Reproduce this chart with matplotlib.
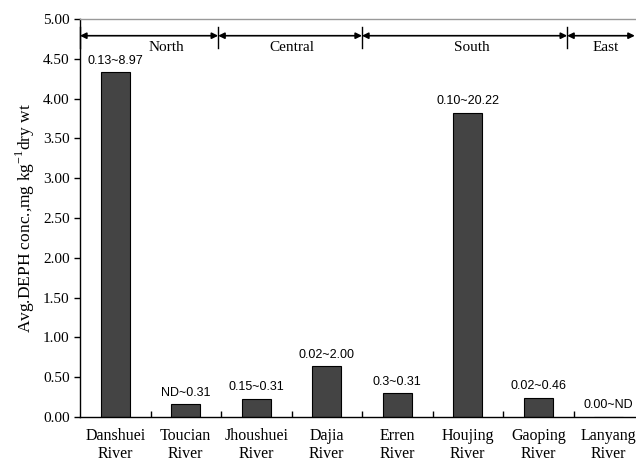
#!/usr/bin/env python3
"""DEPH concentration in river sediments, grouped by region."""

import numpy as np
import matplotlib
matplotlib.use('Agg')
import matplotlib.pyplot as plt

plt.rcParams['font.family'] = 'Liberation Serif'
plt.rcParams['mathtext.fontset'] = 'custom'
plt.rcParams['mathtext.rm'] = 'Liberation Serif'

RIVERS = ['Danshuei\nRiver', 'Toucian\nRiver', 'Jhoushuei\nRiver', 'Dajia\nRiver',
          'Erren\nRiver', 'Houjing\nRiver', 'Gaoping\nRiver', 'Lanyang\nRiver']
AVG_CONC = [4.33, 0.16, 0.23, 0.64, 0.30, 3.82, 0.24, 0.0]
RANGES = ['0.13~8.97', 'ND~0.31', '0.15~0.31', '0.02~2.00',
          '0.3~0.31', '0.10~20.22', '0.02~0.46', '0.00~ND']
YTICKS = [0.0, 0.5, 1.0, 1.5, 2.0, 2.5, 3.0, 3.5, 4.0, 4.5, 5.0]

REGIONS = ['North', 'Central', 'South', 'East']

# layout of the region brackets (category units)
REGION_EDGES = [-0.5, 1.46, 3.5, 6.41, 7.37]
REGION_LABEL_X = [0.73, 2.51, 5.06, 6.96]
ARROW_Y = 4.79
LABEL_Y = 4.64


def main():
    fig = plt.figure(figsize=(6.36, 4.65), dpi=100)
    ax = fig.add_axes([80 / 636, 1 - 417 / 465, 564 / 636, 398 / 465])

    x = np.arange(len(RIVERS))
    bars = ax.bar(x, AVG_CONC, 0.41, color='#444444', edgecolor='black', linewidth=0.8)

    for bar, txt in zip(bars, RANGES):
        ax.annotate(txt, (bar.get_x() + bar.get_width() / 2, bar.get_height()),
                    xytext=(0, 4), textcoords='offset points', ha='center', va='bottom',
                    fontsize=9, family='Liberation Sans')

    # region brackets
    for i, name in enumerate(REGIONS):
        ax.annotate('', xy=(REGION_EDGES[i + 1], ARROW_Y), xytext=(REGION_EDGES[i], ARROW_Y),
                    arrowprops=dict(arrowstyle='<|-|>', color='black', lw=1.2,
                                    shrinkA=0, shrinkB=0, mutation_scale=9))
        ax.text(REGION_LABEL_X[i], LABEL_Y, name, ha='center', va='center', fontsize=11)
    for edge in REGION_EDGES[:-1]:
        ax.plot([edge, edge], [4.63, 4.90], color='black', lw=1.0, clip_on=False)

    ax.set_xlim(-0.5, len(RIVERS) - 0.5)
    ax.set_ylim(0, 5.0)
    ax.set_yticks(YTICKS)
    ax.set_yticklabels([f'{v:.2f}' for v in YTICKS], fontsize=11)
    ax.set_xticks(x)
    ax.set_xticklabels(RIVERS, fontsize=11.5, linespacing=1.15)
    ax.set_xticks(x[:-1] + 0.5, minor=True)
    ax.tick_params(axis='x', which='major', length=0, pad=8)
    ax.tick_params(axis='x', which='minor', direction='in', length=4, width=1)
    ax.tick_params(axis='y', direction='out', length=4, width=1)

    ax.set_ylabel('Avg.DEPH conc.,mg kg$^{-1}$dry wt', fontsize=12.5, labelpad=4)

    ax.spines['top'].set_color('#999999')
    ax.spines['top'].set_linewidth(1.0)
    ax.spines['right'].set_visible(False)
    ax.spines['left'].set_linewidth(1.0)
    ax.spines['bottom'].set_linewidth(1.0)

    fig.savefig('out.png', dpi=100, facecolor='white')
    plt.close(fig)
    return 0


if __name__ == '__main__':
    exit(main())
